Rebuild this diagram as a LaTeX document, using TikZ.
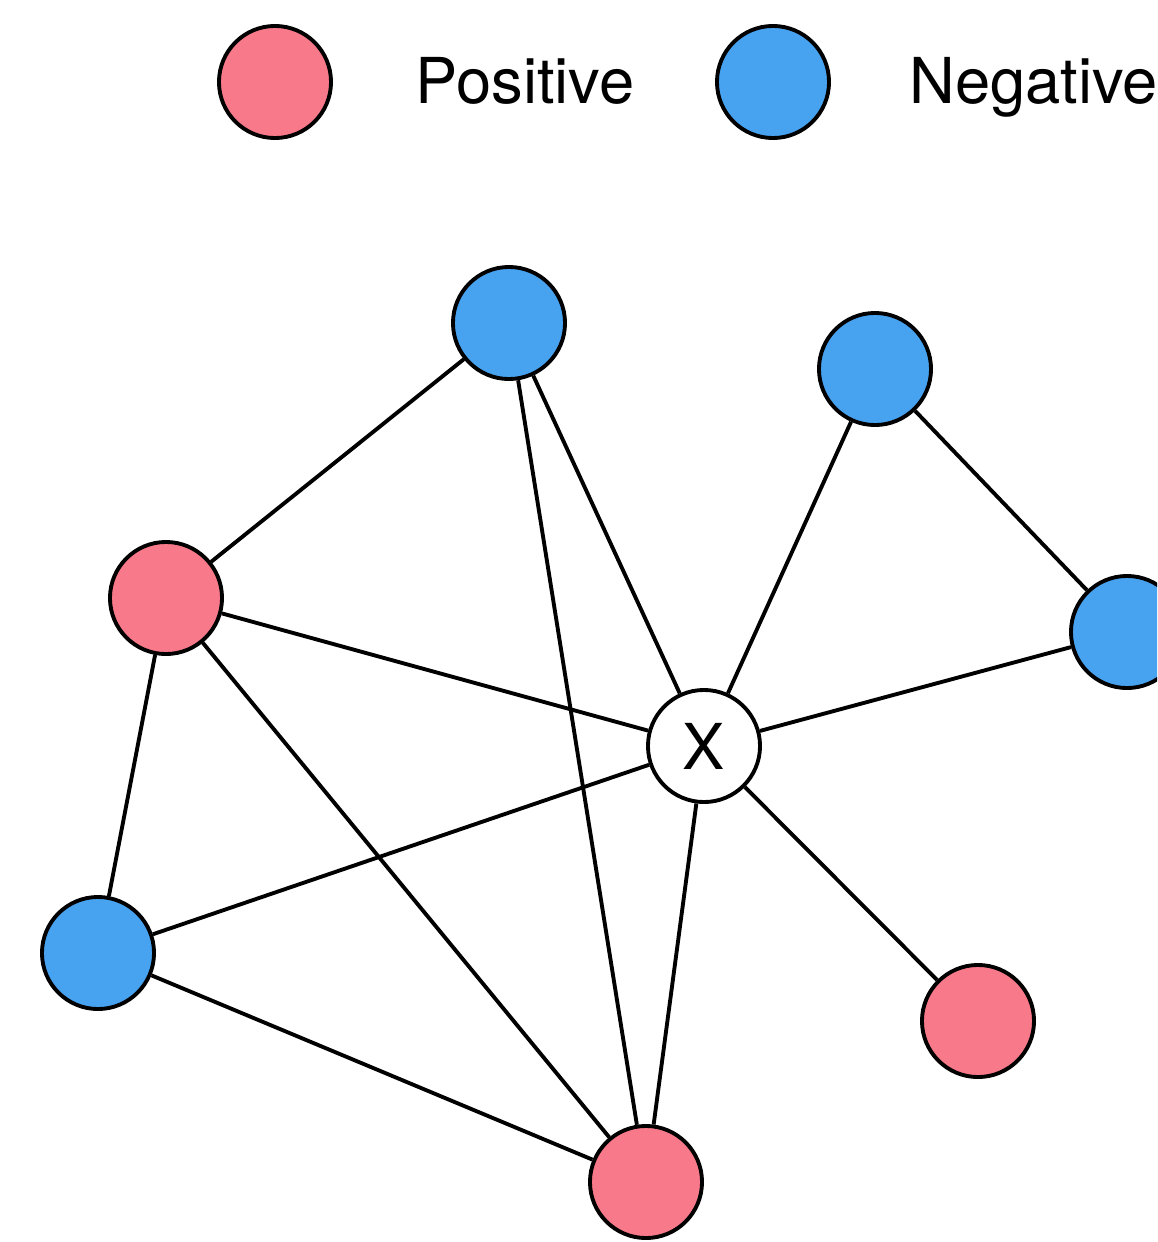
\documentclass[tikz,border=0pt]{standalone}
\usepackage{fontspec}
\setmainfont{TeX Gyre Heros}
\usepackage{tikz}
\usetikzlibrary{positioning}
\definecolor{posred}{HTML}{F7798A}
\definecolor{negblue}{HTML}{47A2F0}

\begin{document}
\begin{tikzpicture}[x=0.01cm,y=-0.01cm,
    vert/.style={circle,draw=black,line width=1.1pt,minimum size=1.12cm,inner sep=0pt,
      font=\fontsize{18}{21}\selectfont},
    posvert/.style={vert,fill=posred},
    negvert/.style={vert,fill=negblue},
    legtext/.style={anchor=base west,inner sep=0pt,font=\fontsize{18}{21}\selectfont},
    conn/.style={line width=1.1pt}]
           \useasboundingbox (0,0) rectangle (1157,1242);
           \clip (0,0) rectangle (1157,1242);
           % legend
           \node[posvert] (posleg) at (275,82) {};
           \node[legtext] (postxt) at (415,103) {Positive};
           \node[negvert] (negleg) at (773,82) {};
           \node[legtext] (negtxt) at (909,103) {Negative};
           % graph
           \node[vert,fill=white] (x) at (704,746) {X};
           \node[negvert] (top) at (509,323) {};
           \node[negvert] (topr) at (875,369) {};
           \node[posvert] (lft) at (166,598) {};
           \node[negvert] (rgt) at (1127,632) {};
           \node[negvert] (lb) at (98,953) {};
           \node[posvert] (rr) at (978,1021) {};
           \node[posvert] (bot) at (646,1182) {};
           \draw[conn] (top) -- (lft);
           \draw[conn] (top) -- (bot);
           \draw[conn] (top) -- (x);
           \draw[conn] (topr) -- (x);
           \draw[conn] (topr) -- (rgt);
           \draw[conn] (lft) -- (x);
           \draw[conn] (lft) -- (lb);
           \draw[conn] (lft) -- (bot);
           \draw[conn] (rgt) -- (x);
           \draw[conn] (x) -- (lb);
           \draw[conn] (x) -- (bot);
           \draw[conn] (x) -- (rr);
           \draw[conn] (lb) -- (bot);
         \end{tikzpicture}
\end{document}
